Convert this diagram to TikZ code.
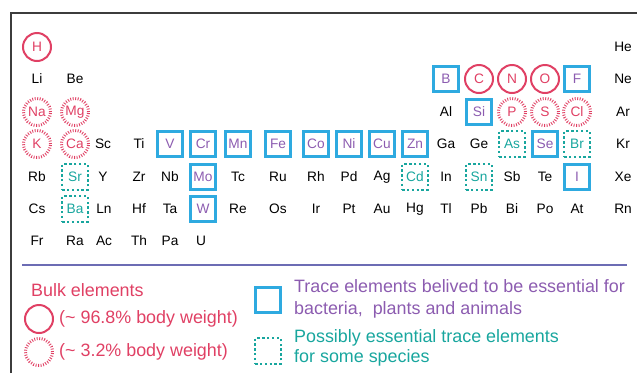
\documentclass[tikz,border=0pt]{standalone}
\usepackage{fontspec}
\setmainfont{Liberation Sans}
\definecolor{bulkred}{RGB}{224,64,100}
\definecolor{tracepurple}{RGB}{140,92,176}
\definecolor{boxblue}{RGB}{46,170,224}
\definecolor{maybeteal}{RGB}{24,166,158}
\definecolor{seppurple}{RGB}{108,108,180}
\definecolor{framegray}{RGB}{60,60,60}
\tikzset{
    plain/.style={font=\fontsize{13.7}{16}\selectfont,inner sep=0pt},
    bulk/.style={plain,circle,draw=bulkred,line width=2pt,minimum size=28pt,text=bulkred},
    minor/.style={plain,circle,draw=bulkred,line width=3pt,dash pattern=on 0.9pt off 1.6pt,minimum size=27pt,text=bulkred},
    trace/.style={plain,rectangle,draw=boxblue,line width=2.6pt,minimum size=24.5pt,text=tracepurple},
    maybe/.style={plain,rectangle,draw=maybeteal,line width=1.7pt,dash pattern=on 2.4pt off 2.4pt,minimum size=25.5pt,text=maybeteal},
    keytext/.style={font=\fontsize{17.9}{22}\selectfont,inner sep=0pt,align=left}
}

\begin{document}
\begin{tikzpicture}[x=1pt,y=-1pt]
        \useasboundingbox (0,0) rectangle (637,373);
        \draw[framegray,line width=1.4pt] (11,373) |- (637,13);
        % periodic table, row by row
        \foreach \x/\e/\s in {37/H/bulk,623/He/plain}
            \node[\s] (\e) at (\x,47) {\e};
        \foreach \x/\e/\s in {37/Li/plain,75/Be/plain,446/B/trace,479/C/bulk,512/N/bulk,545/O/bulk,577/F/trace,623/Ne/plain}
            \node[\s] (\e) at (\x,79) {\e};
        \foreach \x/\e/\s in {37/Na/minor,75/Mg/minor,446/Al/plain,479/Si/trace,512/P/minor,545/S/minor,577/Cl/minor,623/Ar/plain}
            \node[\s] (\e) at (\x,112) {\e};
        \foreach \x/\e/\s in {37/K/minor,75/Ca/minor,103/Sc/plain,139/Ti/plain,170/V/trace,203/Cr/trace,238/Mn/trace,278/Fe/trace,316/Co/trace,349/Ni/trace,382/Cu/trace,415/Zn/trace,446/Ga/plain,479/Ge/plain,512/As/maybe,545/Se/trace,577/Br/maybe,623/Kr/plain}
            \node[\s] (\e) at (\x,144) {\e};
        \foreach \x/\e/\s in {37/Rb/plain,75/Sr/maybe,103/Y/plain,139/Zr/plain,170/Nb/plain,203/Mo/trace,238/Tc/plain,278/Ru/plain,316/Rh/plain,349/Pd/plain,382/Ag/plain,415/Cd/maybe,446/In/plain,479/Sn/maybe,512/Sb/plain,545/Te/plain,577/I/trace,623/Xe/plain}
            \node[\s] (\e) at (\x,177) {\e};
        \foreach \x/\e/\s in {37/Cs/plain,75/Ba/maybe,104/Ln/plain,139/Hf/plain,170/Ta/plain,203/W/trace,238/Re/plain,278/Os/plain,316/Ir/plain,349/Pt/plain,382/Au/plain,415/Hg/plain,446/Tl/plain,479/Pb/plain,512/Bi/plain,545/Po/plain,577/At/plain,623/Rn/plain}
            \node[\s] (\e) at (\x,209) {\e};
        \foreach \x/\e/\s in {37/Fr/plain,75/Ra/plain,104/Ac/plain,139/Th/plain,170/Pa/plain,201/U/plain}
            \node[\s] (\e) at (\x,241) {\e};
        % legend
        \draw[seppurple,line width=1.6pt] (22,265) -- (627,265);
        \node[keytext,text=bulkred,anchor=west] (bulkhead) at (31,290) {Bulk elements};
        \node[bulk] (bulkkey) at (39,319) {};
        \node[keytext,text=bulkred,anchor=west] (bulktext) at (59,319) {(\char"007E\ 96.8\% body weight)};
        \node[minor] (minorkey) at (39,352) {};
        \node[keytext,text=bulkred,anchor=west] (minortext) at (59,352) {(\char"007E\ 3.2\% body weight)};
        \node[trace] (tracekey) at (268,300) {};
        \node[keytext,text=tracepurple,anchor=west] (tracetext) at (294,299) {Trace elements belived to be essential for\\bacteria,\ \ plants and animals};
        \node[maybe] (maybekey) at (268,351) {};
        \node[keytext,text=maybeteal,anchor=west,font=\fontsize{17.9}{20}\selectfont] (maybetext) at (294,348) {Possibly essential trace elements\\for some species};
    \end{tikzpicture}
\end{document}
